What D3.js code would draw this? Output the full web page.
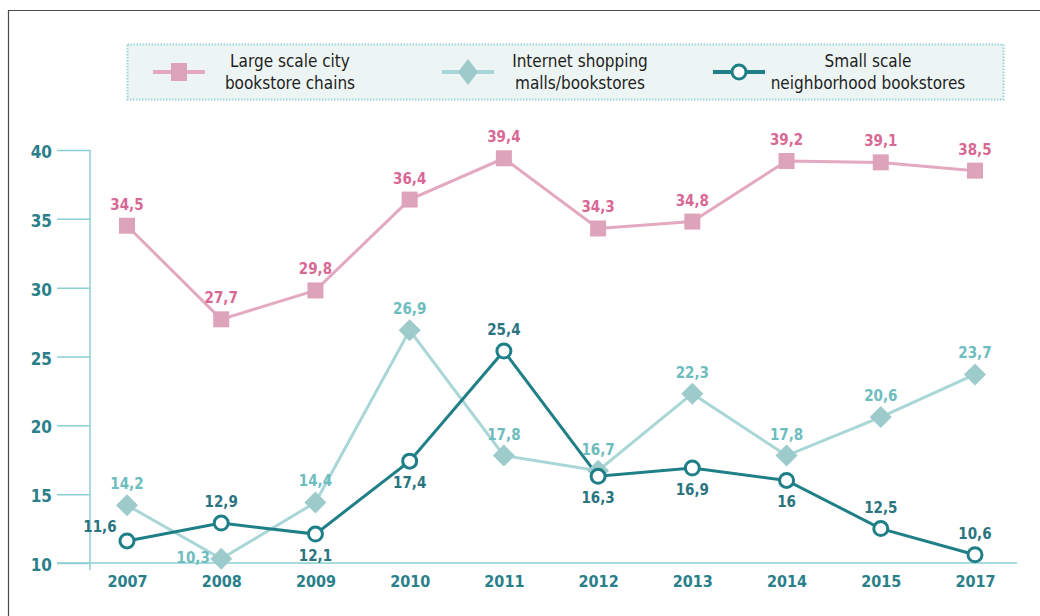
<!DOCTYPE html>
<html>
<head>
<meta charset="utf-8">
<script src="https://cdn.jsdelivr.net/npm/d3@7"></script>
<style>
  body { margin: 0; background: #fff; }
  svg { display: block; }
</style>
</head>
<body>
<svg id="chart" width="1040" height="616"></svg>
<script>
const years = ["2007", "2008", "2009", "2010", "2011", "2012", "2013", "2014", "2015", "2017"];
const largeChains = [34.5, 27.7, 29.8, 36.4, 39.4, 34.3, 34.8, 39.2, 39.1, 38.5];
const internetMalls = [14.2, 10.3, 14.4, 26.9, 17.8, 16.7, 22.3, 17.8, 20.6, 23.7];
const smallNeighborhood = [11.6, 12.9, 12.1, 17.4, 25.4, 16.3, 16.9, 16, 12.5, 10.6];
const yTicks = [10, 15, 20, 25, 30, 35, 40];
const seriesNames = [
  ["Large scale city", "bookstore chains"],
  ["Internet shopping", "malls/bookstores"],
  ["Small scale", "neighborhood bookstores"]
];
// label placement per point
const largePlace = ["a","a","a","a","a","a","a","a","a","a"];
const internetPlace = ["a","l","a","a","a","a","a","a","a","a"];
const smallPlace = ["ul","a","b","b","a","b","b","b","a","a"];

const FONT = "'Liberation Sans Narrow', 'DejaVu Sans Condensed', 'Roboto', sans-serif";
const svg = d3.select("#chart");

// outer frame
svg.append("path").attr("d", "M8.5,616 L8.5,10.5 L1040,10.5")
  .attr("fill", "none").attr("stroke", "#4a4a4a").attr("stroke-width", 1.2);

const x = d3.scalePoint().domain(years).range([127, 975]);
const y = d3.scaleLinear().domain([10, 40]).range([563, 150]);

const axisColor = "#8ccfd3";
const tickText = "#2a7f8a";

// y axis
const yAxis = svg.append("g").attr("transform", "translate(90,0)")
  .call(d3.axisLeft(y).tickValues(yTicks).tickSize(33).tickPadding(5).tickFormat(d3.format("d")));
yAxis.select(".domain").remove();
yAxis.selectAll(".tick line").attr("stroke", axisColor).attr("stroke-width", 1.5);
yAxis.selectAll(".tick text").attr("fill", tickText).attr("font-family", FONT)
  .attr("font-size", 17).attr("font-weight", "bold").attr("dy", "0.45em");
svg.append("line").attr("x1", 90).attr("x2", 90).attr("y1", 150).attr("y2", 570)
  .attr("stroke", axisColor).attr("stroke-width", 1.5);

// x axis
const xAxis = svg.append("g").attr("transform", "translate(0,563)")
  .call(d3.axisBottom(x).tickSize(0).tickPadding(10));
xAxis.select(".domain").remove();
svg.append("line").attr("x1", 57).attr("x2", 1017).attr("y1", 563).attr("y2", 563)
  .attr("stroke", axisColor).attr("stroke-width", 1.5);
xAxis.selectAll(".tick text").attr("fill", tickText).attr("font-family", FONT)
  .attr("font-size", 16).attr("font-weight", "bold").attr("dy", "0.9em");

const line = d3.line().x((d, i) => x(years[i])).y(d => y(d));

const pinkLine = "#e2a9c0", pinkMark = "#dda3bb", pinkText = "#d86894";
const aquaLine = "#a9d6d6", aquaMark = "#9dcaca", aquaText = "#6dbdbe";
const tealLine = "#1f7f87", tealText = "#2a7480";

function drawLine(vals, color, w) {
  svg.append("path").datum(vals).attr("d", line)
    .attr("fill", "none").attr("stroke", color).attr("stroke-width", w);
}
drawLine(largeChains, pinkLine, 3);
drawLine(internetMalls, aquaLine, 3);
drawLine(smallNeighborhood, tealLine, 3);

// markers
svg.append("g").selectAll("rect").data(largeChains).join("rect")
  .attr("x", (d, i) => x(years[i]) - 8).attr("y", d => y(d) - 8)
  .attr("width", 16).attr("height", 16).attr("fill", pinkMark);
svg.append("g").selectAll("path").data(internetMalls).join("path")
  .attr("d", (d, i) => { const cx = x(years[i]), cy = y(d), r = 11;
    return `M${cx},${cy - r}L${cx + r},${cy}L${cx},${cy + r}L${cx - r},${cy}Z`; })
  .attr("fill", aquaMark);
svg.append("g").selectAll("circle").data(smallNeighborhood).join("circle")
  .attr("cx", (d, i) => x(years[i])).attr("cy", d => y(d)).attr("r", 7)
  .attr("fill", "#fff").attr("stroke", tealLine).attr("stroke-width", 3);

// value labels
const fmt = v => String(v).replace(".", ",");
function labels(vals, places, color) {
  svg.append("g").selectAll("text").data(vals).join("text")
    .attr("x", (d, i) => x(years[i]) + ({ a: 0, b: 0, l: -28, ul: -27 })[places[i]])
    .attr("y", (d, i) => y(d) + ({ a: -16, b: 27, l: 4, ul: -9 })[places[i]])
    .attr("text-anchor", "middle").attr("fill", color)
    .attr("font-family", FONT).attr("font-size", 15).attr("font-weight", "bold")
    .text(fmt);
}
labels(largeChains, largePlace, pinkText);
labels(internetMalls, internetPlace, aquaText);
labels(smallNeighborhood, smallPlace, tealText);

// legend
const lg = svg.append("g");
lg.append("rect").attr("x", 127.5).attr("y", 44.5).attr("width", 876).attr("height", 55)
  .attr("fill", "#edf5f4").attr("stroke", "#99d3d5").attr("stroke-width", 2)
  .attr("stroke-dasharray", "1.5,1.5");
const legendItems = [
  { x0: 153, color: pinkLine, kind: "rect", tx: 290 },
  { x0: 442, color: aquaLine, kind: "diamond", tx: 580 },
  { x0: 713, color: tealLine, kind: "circle", tx: 868 }
];
legendItems.forEach((it, k) => {
  const cx = it.x0 + 26, cy = 72;
  lg.append("line").attr("x1", it.x0).attr("x2", it.x0 + 52).attr("y1", cy).attr("y2", cy)
    .attr("stroke", it.color).attr("stroke-width", 4);
  if (it.kind === "rect") lg.append("rect").attr("x", cx - 8).attr("y", cy - 9).attr("width", 16).attr("height", 18).attr("fill", pinkMark);
  if (it.kind === "diamond") lg.append("path").attr("d", `M${cx},${cy - 13}L${cx + 10},${cy}L${cx},${cy + 13}L${cx - 10},${cy}Z`).attr("fill", aquaMark);
  if (it.kind === "circle") lg.append("circle").attr("cx", cx).attr("cy", cy).attr("r", 7).attr("fill", "#fff").attr("stroke", tealLine).attr("stroke-width", 3);
  seriesNames[k].forEach((t, j) => {
    lg.append("text").attr("x", it.tx).attr("y", 67 + j * 22).attr("text-anchor", "middle")
      .attr("fill", "#1e1e1e").attr("font-family", FONT).attr("font-size", 17).text(t);
  });
});
</script>
</body>
</html>
